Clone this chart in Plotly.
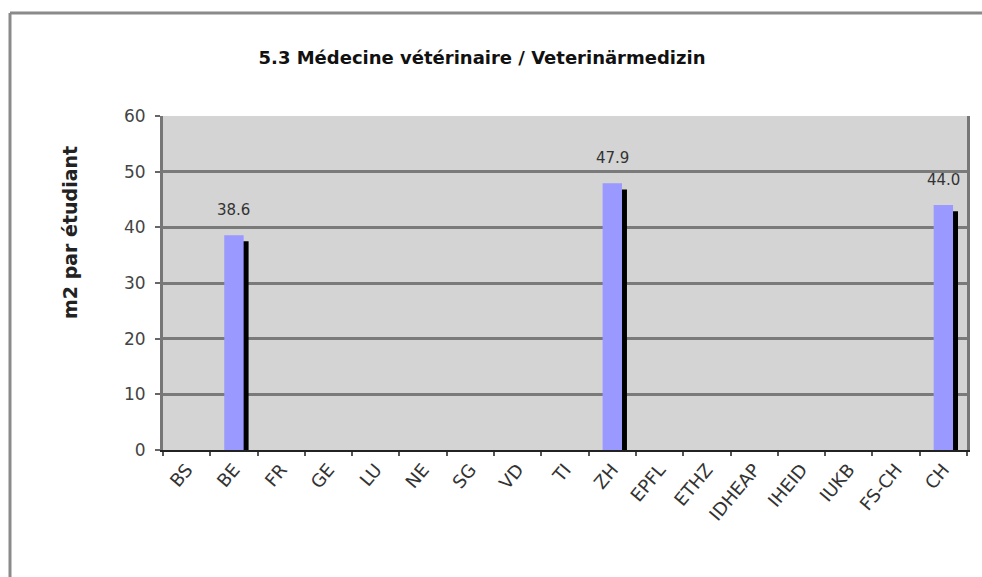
import plotly.graph_objects as go

categories = ["BS", "BE", "FR", "GE", "LU", "NE", "SG", "VD", "TI", "ZH",
              "EPFL", "ETHZ", "IDHEAP", "IHEID", "IUKB", "FS-CH", "CH"]
values = [None, 38.6, None, None, None, None, None, None, None, 47.9,
          None, None, None, None, None, None, 44.0]
y_ticks = [0, 10, 20, 30, 40, 50, 60]

title_text = "5.3 Médecine vétérinaire / Veterinärmedizin"
y_title = "m2 par étudiant"

FONT = "DejaVu Sans, Arial, sans-serif"
BAR_W = 0.41

PL, PR, PT, PB = 163, 15, 116, 127
W, H = 982, 577
pw, ph = W - PL - PR, H - PT - PB


def px_to_paper_x(px):
    return (px - PL) / pw


def px_to_paper_y(py):
    return (H - PB - py) / ph


fig = go.Figure()

# invisible trace so the main y axis (ticks, grid) is drawn
fig.add_trace(go.Scatter(
    x=categories, y=values, yaxis="y", mode="markers",
    marker=dict(opacity=0), hoverinfo="skip", showlegend=False,
))
# shadow bars (drawn behind, shifted right and down)
fig.add_trace(go.Bar(
    x=categories, y=values, yaxis="y2",
    width=BAR_W, offset=-BAR_W / 2 + 0.105,
    marker=dict(color="black", line=dict(width=0)),
    hoverinfo="skip", showlegend=False,
))
# main bars
fig.add_trace(go.Bar(
    x=categories, y=values, yaxis="y3",
    width=BAR_W, offset=-BAR_W / 2,
    marker=dict(color="#9999FF", line=dict(width=0)),
    showlegend=False,
))

annotations = []
for c, v in zip(categories, values):
    if v is not None:
        annotations.append(dict(
            x=c, y=v, xref="x", yref="y3", text=f"{v:.1f}",
            showarrow=False, yanchor="bottom", yshift=14,
            font=dict(family=FONT, size=15, color="#333333"),
        ))

annotations.append(dict(
    x=px_to_paper_x(70), y=px_to_paper_y(233), xref="paper", yref="paper",
    xanchor="center", yanchor="middle",
    text=y_title, showarrow=False, textangle=-90,
    font=dict(family=FONT, size=19, color="#222222", weight="bold"),
))

frame_line = dict(color="#8a8a8a", width=3)
shapes = [
    # outer chart frame: top and left edges (others lie outside the picture)
    dict(type="line", xref="paper", yref="paper",
         x0=px_to_paper_x(10), x1=px_to_paper_x(990),
         y0=px_to_paper_y(13), y1=px_to_paper_y(13),
         line=frame_line, layer="below"),
    dict(type="line", xref="paper", yref="paper",
         x0=px_to_paper_x(10), x1=px_to_paper_x(10),
         y0=px_to_paper_y(13), y1=px_to_paper_y(590),
         line=frame_line, layer="below"),
]

fig.update_layout(
    width=W, height=H,
    margin=dict(l=PL, r=PR, t=PT, b=PB),
    paper_bgcolor="white",
    plot_bgcolor="#d4d4d4",
    barmode="overlay",
    title=dict(text=title_text, x=px_to_paper_x(482), xref="paper",
               xanchor="center", y=1 - 58 / H, yanchor="middle",
               font=dict(family=FONT, size=18, color="#111111", weight="bold")),
    xaxis=dict(
        type="category", categoryorder="array", categoryarray=categories,
        range=[-0.5, len(categories) - 0.5],
        tickangle=-50, tickson="boundaries", ticks="outside", ticklen=4,
        tickwidth=2, tickcolor="#555555",
        tickfont=dict(family=FONT, size=18, color="#333333"),
        showline=True, linecolor="#222222", linewidth=2, mirror=False,
        showgrid=False, zeroline=False,
    ),
    yaxis=dict(
        range=[0, 60], tickvals=y_ticks, ticks="outside", ticklen=5,
        tickwidth=2, tickcolor="#666666", ticklabelstandoff=6,
        tickfont=dict(family=FONT, size=17, color="#444444"),
        showgrid=True, gridcolor="#7a7a7a", gridwidth=3,
        showline=True, linecolor="#777777", linewidth=3, mirror=True,
        zeroline=False,
    ),
    yaxis2=dict(range=[1.1, 61.1], overlaying="y", visible=False),
    yaxis3=dict(range=[0, 60], overlaying="y", visible=False),
    annotations=annotations,
    shapes=shapes,
)

fig.write_html(
    "out.html", config={"displayModeBar": False},
    post_script="document.body.style.margin='0px';"
                "document.body.style.overflow='hidden';"
                "document.documentElement.style.overflow='hidden';",
)
